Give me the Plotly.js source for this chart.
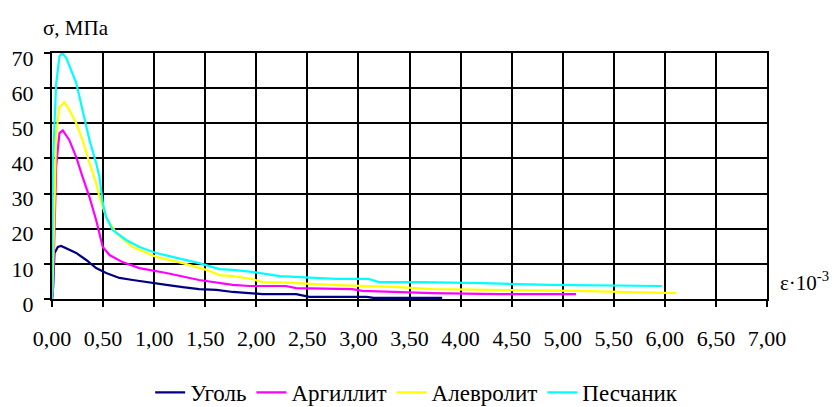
<!DOCTYPE html>
<html><head><meta charset="utf-8">
<script src="https://cdn.plot.ly/plotly-3.0.1.min.js"></script>
<style>html,body{margin:0;padding:0;background:#fff}#chart{width:834px;height:407px}</style>
</head><body><div id="chart"></div>
<script>
const seriesNames = ['Уголь', 'Аргиллит', 'Алевролит', 'Песчаник'];
const seriesColors = ['#000080', '#FF00FF', '#FFFF00', '#00FFFF'];

const coalX = [0, 0.008, 0.024, 0.057, 0.09, 0.139, 0.237, 0.335, 0.432, 0.53, 0.66, 0.79, 0.954, 1.12, 1.28, 1.44, 1.61, 1.77, 1.93, 2.06, 2.39, 2.45, 2.52, 3.08, 3.15, 3.82];
const coalY = [0, 1.7, 13, 14.8, 15.1, 14.5, 13.1, 11.1, 8.8, 7.4, 6.0, 5.4, 4.6, 4.0, 3.4, 2.8, 2.6, 2.0, 1.7, 1.4, 1.4, 1.0, 0.6, 0.6, 0.3, 0.3];

const argX = [0, 0.008, 0.024, 0.04, 0.073, 0.106, 0.17, 0.237, 0.30, 0.367, 0.432, 0.465, 0.497, 0.563, 0.69, 0.856, 1.12, 1.44, 1.64, 1.77, 1.93, 2.29, 2.39, 2.94, 3.04, 3.72, 4.38, 5.13];
const argY = [0, 1.7, 18.8, 37.6, 47.2, 48, 45.2, 40.4, 34.7, 29, 22.5, 18.8, 14.8, 12.5, 10.5, 8.8, 7.4, 5.4, 4.6, 4.0, 3.7, 3.7, 3.1, 2.8, 2.3, 1.7, 1.4, 1.4];

const alevX = [0, 0.01, 0.04, 0.073, 0.12, 0.17, 0.237, 0.30, 0.367, 0.432, 0.465, 0.53, 0.628, 0.79, 1.02, 1.28, 1.51, 1.64, 1.77, 1.96, 2.06, 2.35, 2.72, 3.04, 3.4, 3.72, 4.38, 5.13, 6.11];
const alevY = [0, 8, 47, 54.6, 56, 53.8, 50, 45.2, 38.7, 33, 29, 23.3, 18.8, 14.8, 12, 10.2, 8.3, 6.8, 6.5, 5.7, 4.8, 4.6, 4.0, 3.7, 3.4, 2.8, 2.6, 2.3, 1.7];

const peschX = [0, 0.008, 0.04, 0.073, 0.1, 0.139, 0.237, 0.301, 0.367, 0.432, 0.465, 0.497, 0.53, 0.595, 0.726, 0.856, 1.02, 1.18, 1.44, 1.64, 1.77, 1.96, 2.23, 2.78, 3.1, 3.2, 3.6, 4.21, 4.87, 5.97];
const peschY = [0, 38, 61, 69, 70, 68.6, 61.5, 53.8, 45.2, 38.7, 34.7, 27.3, 23.3, 19.6, 16.8, 14.8, 13.1, 12.0, 10.2, 8.5, 8.3, 7.7, 6.5, 5.7, 5.7, 4.8, 4.8, 4.5, 4.0, 3.7];

const xs = [coalX, argX, alevX, peschX];
const ys = [coalY, argY, alevY, peschY];

const FONT = 'Liberation Serif';

const traces = seriesNames.map((n, i) => ({
  type: 'scatter', mode: 'lines', name: n, x: xs[i], y: ys[i],
  line: {color: seriesColors[i], width: 2.2}
}));

const layout = {
  width: 834, height: 407,
  margin: {l: 52, r: 67, t: 53, b: 108, autoexpand: false},
  paper_bgcolor: '#fff', plot_bgcolor: '#fff',
  separators: ', ',
  font: {family: FONT, size: 22, color: '#000'},
  showlegend: true,
  legend: {orientation: 'h', x: 0.51, xanchor: 'center', y: -0.38, yanchor: 'middle',
           font: {family: FONT, size: 23, color: '#000'}, itemwidth: 30, traceorder: 'normal'},
  xaxis: {range: [0, 7], dtick: 0.5, tick0: 0, tickformat: '.2f',
          showgrid: true, gridcolor: '#000', gridwidth: 2,
          showline: true, linecolor: '#000', linewidth: 2, mirror: true,
          ticks: 'outside', ticklen: 6, tickwidth: 2, tickcolor: '#000',
          ticklabelstandoff: 13, zeroline: false,
          tickfont: {family: FONT, size: 22, color: '#000'}},
  yaxis: {range: [0, 70], dtick: 10, tick0: 0,
          showgrid: true, gridcolor: '#000', gridwidth: 2,
          showline: true, linecolor: '#000', linewidth: 2, mirror: true,
          ticks: 'outside', ticklen: 6, tickwidth: 2, tickcolor: '#000',
          ticklabelstandoff: 6, ticklabelshift: 5, zeroline: false,
          tickfont: {family: FONT, size: 22, color: '#000'}},
  annotations: [
    {text: 'σ, МПа', xref: 'paper', yref: 'paper', x: -0.016, y: 1.10, xanchor: 'left', yanchor: 'middle',
     showarrow: false, font: {family: FONT, size: 21, color: '#000'}},
    {text: 'ε·10<sup>-3</sup>', xref: 'paper', yref: 'paper', x: 1.0147, y: 0.07, xanchor: 'left', yanchor: 'middle',
     showarrow: false, font: {family: FONT, size: 21, color: '#000'}}
  ]
};

Plotly.newPlot('chart', traces, layout, {displayModeBar: false, staticPlot: true});
</script></body></html>
